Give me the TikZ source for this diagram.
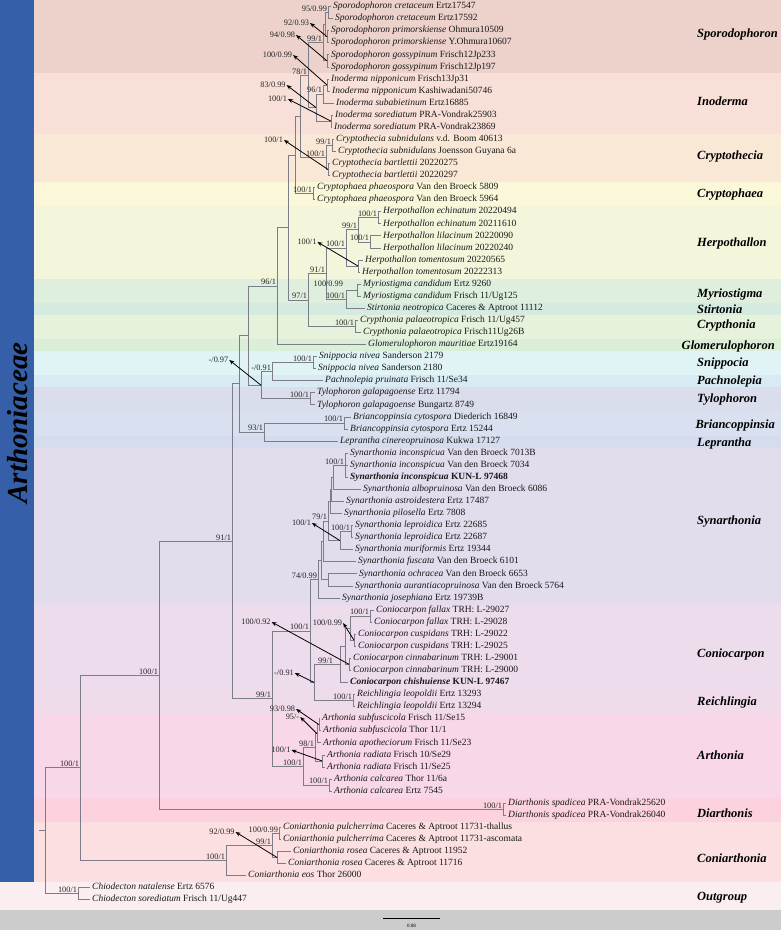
\documentclass[tikz,border=0pt]{standalone}
\usepackage{fontspec}
\setmainfont{Liberation Serif}
\usetikzlibrary{arrows.meta}
\definecolor{cSpo}{HTML}{ECD2CB}
\definecolor{cIno}{HTML}{F8DFD7}
\definecolor{cCth}{HTML}{FAE8D7}
\definecolor{cCph}{HTML}{FBF8D9}
\definecolor{cHer}{HTML}{F3F6DB}
\definecolor{cMyr}{HTML}{DEEFDE}
\definecolor{cSti}{HTML}{D6EBE0}
\definecolor{cCry}{HTML}{E6F2DB}
\definecolor{cGlo}{HTML}{DAEED8}
\definecolor{cSni}{HTML}{E0F3F5}
\definecolor{cPac}{HTML}{D8EBF4}
\definecolor{cTyl}{HTML}{DADDEC}
\definecolor{cBri}{HTML}{D9E0EF}
\definecolor{cLep}{HTML}{D5DCEE}
\definecolor{cSyn}{HTML}{E2DCEC}
\definecolor{cCon}{HTML}{ECDCEC}
\definecolor{cRei}{HTML}{EFDBEA}
\definecolor{cArt}{HTML}{F8D8E8}
\definecolor{cDia}{HTML}{FBD2DD}
\definecolor{cCoa}{HTML}{FBDFE1}
\definecolor{cOut}{HTML}{FAEEF0}
\definecolor{cGray}{HTML}{CCCCCC}
\definecolor{cBlue}{HTML}{3560A9}
\definecolor{cBranch}{HTML}{7D7D88}
\begin{document}
\begin{tikzpicture}[x=1pt,y=-1pt,
  branch/.style={draw=cBranch,line width=0.7pt},
  arr/.style={draw=black,line width=0.8pt,-{Stealth[length=5pt,width=4pt]}},
  leaf/.style={anchor=west,inner xsep=2pt,inner ysep=0pt,text height=6.5pt,text depth=2pt,font=\fontsize{9.5}{11}\selectfont,text=black!90},
  sup/.style={inner sep=0.8pt,font=\fontsize{8.3}{9}\selectfont,text=black!85},
  supn/.style={sup,anchor=south east},
  grp/.style={inner sep=0pt,font=\fontsize{12.5}{14}\selectfont\bfseries\itshape},
  fam/.style={inner sep=0pt,font=\fontsize{29}{30}\selectfont\bfseries\itshape,rotate=90}
]
\useasboundingbox (0,0) rectangle (781,930);
% background bands
\fill[cSpo] (34,0) rectangle (781,73.4);
\fill[cIno] (34,73.4) rectangle (781,133.7);
\fill[cCth] (34,133.7) rectangle (781,182.1);
\fill[cCph] (34,182.1) rectangle (781,206.2);
\fill[cHer] (34,206.2) rectangle (781,278.6);
\fill[cMyr] (34,278.6) rectangle (781,302.7);
\fill[cSti] (34,302.7) rectangle (781,314.8);
\fill[cCry] (34,314.8) rectangle (781,339);
\fill[cGlo] (34,339) rectangle (781,351);
\fill[cSni] (34,351) rectangle (781,375.1);
\fill[cPac] (34,375.1) rectangle (781,387.2);
\fill[cTyl] (34,387.2) rectangle (781,411.3);
\fill[cBri] (34,411.3) rectangle (781,435.5);
\fill[cLep] (34,435.5) rectangle (781,447.6);
\fill[cSyn] (34,447.6) rectangle (781,604.5);
\fill[cCon] (34,604.5) rectangle (781,689);
\fill[cRei] (34,689) rectangle (781,713.1);
\fill[cArt] (34,713.1) rectangle (781,797.6);
\fill[cDia] (34,797.6) rectangle (781,821.7);
\fill[cCoa] (34,821.7) rectangle (781,882.1);
\fill[cOut] (0,882.1) rectangle (781,910);
\fill[cGray] (0,910) rectangle (781,930);
\fill[cBlue] (0,0) rectangle (34,882.1);
\node[fam] (fam) at (18,423) {Arthoniaceae};

% leaves
\node[leaf] (l1) at (331,6.5) {\textit{Sporodophoron cretaceum} Ertz17547};
\node[leaf] (l2) at (333,18.57) {\textit{Sporodophoron cretaceum} Ertz17592};
\node[leaf] (l3) at (329,30.64) {\textit{Sporodophoron primorskiense} Ohmura10509};
\node[leaf] (l4) at (329,42.71) {\textit{Sporodophoron primorskiense} Y.Ohmura10607};
\node[leaf] (l5) at (329,54.78) {\textit{Sporodophoron gossypinum} Frisch12Jp233};
\node[leaf] (l6) at (329,66.85) {\textit{Sporodophoron gossypinum} Frisch12Jp197};
\node[leaf] (l7) at (329,78.92) {\textit{Inoderma nipponicum} Frisch13Jp31};
\node[leaf] (l8) at (330,90.99) {\textit{Inoderma nipponicum} Kashiwadani50746};
\node[leaf] (l9) at (334,103.06) {\textit{Inoderma subabietinum} Ertz16885};
\node[leaf] (l10) at (333,115.13) {\textit{Inoderma sorediatum} PRA-Vondrak25903};
\node[leaf] (l11) at (332,127.2) {\textit{Inoderma sorediatum} PRA-Vondrak23869};
\node[leaf] (l12) at (334,139.27) {\textit{Cryptothecia subnidulans} v.d. Boom 40613};
\node[leaf] (l13) at (336,151.34) {\textit{Cryptothecia subnidulans} Joensson Guyana 6a};
\node[leaf] (l14) at (330,163.41) {\textit{Cryptothecia bartlettii} 20220275};
\node[leaf] (l15) at (330,175.48) {\textit{Cryptothecia bartlettii} 20220297};
\node[leaf] (l16) at (315,187.55) {\textit{Cryptophaea phaeospora} Van den Broeck 5809};
\node[leaf] (l17) at (315,199.62) {\textit{Cryptophaea phaeospora} Van den Broeck 5964};
\node[leaf] (l18) at (381,211.69) {\textit{Herpothallon echinatum} 20220494};
\node[leaf] (l19) at (381,223.76) {\textit{Herpothallon echinatum} 20211610};
\node[leaf] (l20) at (381,235.83) {\textit{Herpothallon lilacinum} 20220090};
\node[leaf] (l21) at (381,247.9) {\textit{Herpothallon lilacinum} 20220240};
\node[leaf] (l22) at (363,259.97) {\textit{Herpothallon tomentosum} 20220565};
\node[leaf] (l23) at (360,272.04) {\textit{Herpothallon tomentosum} 20222313};
\node[leaf] (l24) at (361,284.11) {\textit{Myriostigma candidum} Ertz 9260};
\node[leaf] (l25) at (361,296.18) {\textit{Myriostigma candidum} Frisch 11/Ug125};
\node[leaf] (l26) at (365,308.25) {\textit{Stirtonia neotropica} Caceres \& Aptroot 11112};
\node[leaf] (l27) at (358,320.32) {\textit{Crypthonia palaeotropica} Frisch 11/Ug457};
\node[leaf] (l28) at (361,332.39) {\textit{Crypthonia palaeotropica} Frisch11Ug26B};
\node[leaf] (l29) at (366,344.46) {\textit{Glomerulophoron mauritiae} Ertz19164};
\node[leaf] (l30) at (317,356.53) {\textit{Snippocia nivea} Sanderson 2179};
\node[leaf] (l31) at (316,368.6) {\textit{Snippocia nivea} Sanderson 2180};
\node[leaf] (l32) at (323,380.67) {\textit{Pachnolepia pruinata} Frisch 11/Se34};
\node[leaf] (l33) at (315,392.74) {\textit{Tylophoron galapagoense} Ertz 11794};
\node[leaf] (l34) at (315,404.81) {\textit{Tylophoron galapagoense} Bungartz 8749};
\node[leaf] (l35) at (351,416.88) {\textit{Briancoppinsia cytospora} Diederich 16849};
\node[leaf] (l36) at (348,428.95) {\textit{Briancoppinsia cytospora} Ertz 15244};
\node[leaf] (l37) at (338,441.02) {\textit{Leprantha cinereopruinosa} Kukwa 17127};
\node[leaf] (l38) at (348,453.09) {\textit{Synarthonia inconspicua} Van den Broeck 7013B};
\node[leaf] (l39) at (348,465.16) {\textit{Synarthonia inconspicua} Van den Broeck 7034};
\node[leaf] (l40) at (348,477.23) {\textbf{\textit{Synarthonia inconspicua} KUN-L 97468}};
\node[leaf] (l41) at (361,489.3) {\textit{Synarthonia albopruinosa} Van den Broeck 6086};
\node[leaf] (l42) at (344,501.37) {\textit{Synarthonia astroidestera} Ertz 17487};
\node[leaf] (l43) at (342,513.44) {\textit{Synarthonia pilosella} Ertz 7808};
\node[leaf] (l44) at (353,525.51) {\textit{Synarthonia leproidica} Ertz 22685};
\node[leaf] (l45) at (353,537.58) {\textit{Synarthonia leproidica} Ertz 22687};
\node[leaf] (l46) at (353,549.65) {\textit{Synarthonia muriformis} Ertz 19344};
\node[leaf] (l47) at (356,561.72) {\textit{Synarthonia fuscata} Van den Broeck 6101};
\node[leaf] (l48) at (357,573.79) {\textit{Synarthonia ochracea} Van den Broeck 6653};
\node[leaf] (l49) at (353,585.86) {\textit{Synarthonia aurantiacopruinosa} Van den Broeck 5764};
\node[leaf] (l50) at (340,597.93) {\textit{Synarthonia josephiana} Ertz 19739B};
\node[leaf] (l51) at (374,610.0) {\textit{Coniocarpon fallax} TRH: L-29027};
\node[leaf] (l52) at (372,622.07) {\textit{Coniocarpon fallax} TRH: L-29028};
\node[leaf] (l53) at (356,634.14) {\textit{Coniocarpon cuspidans} TRH: L-29022};
\node[leaf] (l54) at (356,646.21) {\textit{Coniocarpon cuspidans} TRH: L-29025};
\node[leaf] (l55) at (351,658.28) {\textit{Coniocarpon cinnabarinum} TRH: L-29001};
\node[leaf] (l56) at (351,670.35) {\textit{Coniocarpon cinnabarinum} TRH: L-29000};
\node[leaf] (l57) at (348,682.42) {\textbf{\textit{Coniocarpon chishuiense} KUN-L 97467}};
\node[leaf] (l58) at (355,694.49) {\textit{Reichlingia leopoldii} Ertz 13293};
\node[leaf] (l59) at (355,706.56) {\textit{Reichlingia leopoldii} Ertz 13294};
\node[leaf] (l60) at (320,718.63) {\textit{Arthonia subfuscicola} Frisch 11/Se15};
\node[leaf] (l61) at (321,730.7) {\textit{Arthonia subfuscicola} Thor 11/1};
\node[leaf] (l62) at (321,742.77) {\textit{Arthonia apotheciorum} Frisch 11/Se23};
\node[leaf] (l63) at (325,754.84) {\textit{Arthonia radiata} Frisch 10/Se29};
\node[leaf] (l64) at (325,766.91) {\textit{Arthonia radiata} Frisch 11/Se25};
\node[leaf] (l65) at (332,778.98) {\textit{Arthonia calcarea} Thor 11/6a};
\node[leaf] (l66) at (332,791.05) {\textit{Arthonia calcarea} Ertz 7545};
\node[leaf] (l67) at (506,803.12) {\textit{Diarthonis spadicea} PRA-Vondrak25620};
\node[leaf] (l68) at (506,815.19) {\textit{Diarthonis spadicea} PRA-Vondrak26040};
\node[leaf] (l69) at (281,827.26) {\textit{Coniarthonia pulcherrima} Caceres \& Aptroot 11731-thallus};
\node[leaf] (l70) at (281,839.33) {\textit{Coniarthonia pulcherrima} Caceres \& Aptroot 11731-ascomata};
\node[leaf] (l71) at (291,851.4) {\textit{Coniarthonia rosea} Caceres \& Aptroot 11952};
\node[leaf] (l72) at (286,863.47) {\textit{Coniarthonia rosea} Caceres \& Aptroot 11716};
\node[leaf] (l73) at (246,875.54) {\textit{Coniarthonia eos} Thor 26000};
\node[leaf] (l74) at (90,887.61) {\textit{Chiodecton natalense} Ertz 6576};
\node[leaf] (l75) at (90,899.68) {\textit{Chiodecton sorediatum} Frisch 11/Ug447};

% internal nodes
\coordinate (cre) at (328,12.54);
\coordinate (pri) at (327,36.68);
\coordinate (gos) at (327,60.82);
\coordinate (SpoA) at (325,24.61);
\coordinate (SpoR) at (323,42.71);
\coordinate (nip) at (327,84.96);
\coordinate (Ino96) at (323,94.01);
\coordinate (sor) at (331,121.17);
\coordinate (InoR) at (316,107.59);
\coordinate (N308) at (308,75.15);
\coordinate (sub) at (332,145.3);
\coordinate (bar) at (328,169.45);
\coordinate (C0) at (326,157.4);
\coordinate (N300) at (300,116.28);
\coordinate (cph) at (313,193.59);
\coordinate (Q) at (295,154.93);
\coordinate (ech) at (378,217.73);
\coordinate (lil) at (370,241.87);
\coordinate (N358) at (358,229.8);
\coordinate (tom) at (358,266.0);
\coordinate (N346) at (346,247.9);
\coordinate (myr) at (357,290.15);
\coordinate (MS) at (346,299.2);
\coordinate (N326) at (326,273.55);
\coordinate (cry) at (355,326.36);
\coordinate (R) at (308,299.95);
\coordinate (P) at (288,227.44);
\coordinate (N277) at (277,285.95);
\coordinate (sni) at (313,362.57);
\coordinate (N272) at (272,371.62);
\coordinate (tyl) at (310,398.78);
\coordinate (N261) at (261,385.2);
\coordinate (N248) at (248,335.6);
\coordinate (bri) at (344,422.92);
\coordinate (N264) at (264,431.97);
\coordinate (N239) at (239,383.8);
\coordinate (ins) at (345,465.16);
\coordinate (SynH) at (333,477.23);
\coordinate (SynG) at (331,489.3);
\coordinate (SynF) at (330,501.37);
\coordinate (lep) at (351,531.55);
\coordinate (LM) at (340,540.6);
\coordinate (SynE) at (328,520.99);
\coordinate (SynD) at (323,541.36);
\coordinate (OA) at (328,579.83);
\coordinate (SynC) at (321,560.6);
\coordinate (SynR) at (318,579.27);
\coordinate (fal) at (370,616.04);
\coordinate (cus) at (354,640.18);
\coordinate (C2) at (350,628.11);
\coordinate (cin) at (349,664.32);
\coordinate (C1) at (345,646.2);
\coordinate (Cc) at (340,664.31);
\coordinate (rei) at (353,700.53);
\coordinate (Rc) at (314,682.42);
\coordinate (N310) at (310,630.85);
\coordinate (subf) at (319,724.67);
\coordinate (ArB) at (317,733.72);
\coordinate (rad) at (322,760.88);
\coordinate (ArA) at (315,747.3);
\coordinate (cal) at (329,785.02);
\coordinate (ArR) at (303,766.16);
\coordinate (N272b) at (272,698.5);
\coordinate (N232) at (232,541.15);
\coordinate (dia) at (503,809.16);
\coordinate (N159) at (159,675.15);
\coordinate (pul) at (279,833.3);
\coordinate (ros) at (277,857.44);
\coordinate (CrA) at (272,845.37);
\coordinate (Cr) at (226,860.45);
\coordinate (N80) at (80,767.8);
\coordinate (out) at (78,893.65);
\coordinate (root) at (45,830.7);
\coordinate (stub) at (39,830.7);

% branches
\foreach \p/\c in {cre/l1.west,cre/l2.west,pri/l3.west,pri/l4.west,gos/l5.west,gos/l6.west,
  SpoA/cre,SpoA/pri,SpoR/SpoA,SpoR/gos,
  nip/l7.west,nip/l8.west,Ino96/nip,Ino96/l9.west,sor/l10.west,sor/l11.west,InoR/Ino96,InoR/sor,
  N308/SpoR,N308/InoR,
  sub/l12.west,sub/l13.west,bar/l14.west,bar/l15.west,C0/sub,C0/bar,N300/N308,N300/C0,
  cph/l16.west,cph/l17.west,Q/N300,Q/cph,
  ech/l18.west,ech/l19.west,lil/l20.west,lil/l21.west,N358/ech,N358/lil,tom/l22.west,tom/l23.west,
  N346/N358,N346/tom,myr/l24.west,myr/l25.west,MS/myr,MS/l26.west,N326/N346,N326/MS,
  cry/l27.west,cry/l28.west,R/N326,R/cry,P/Q,P/R,N277/P,N277/l29.west,
  sni/l30.west,sni/l31.west,N272/sni,N272/l32.west,tyl/l33.west,tyl/l34.west,N261/N272,N261/tyl,
  N248/N277,N248/N261,bri/l35.west,bri/l36.west,N264/bri,N264/l37.west,N239/N248,N239/N264,
  ins/l38.west,ins/l39.west,ins/l40.west,SynH/ins,SynH/l41.west,SynG/SynH,SynG/l42.west,
  SynF/SynG,SynF/l43.west,lep/l44.west,lep/l45.west,LM/lep,LM/l46.west,SynE/SynF,SynE/LM,
  SynD/SynE,SynD/l47.west,OA/l48.west,OA/l49.west,SynC/SynD,SynC/OA,SynR/SynC,SynR/l50.west,
  fal/l51.west,fal/l52.west,cus/l53.west,cus/l54.west,C2/fal,C2/cus,cin/l55.west,cin/l56.west,
  C1/C2,C1/cin,Cc/C1,Cc/l57.west,rei/l58.west,rei/l59.west,Rc/Cc,Rc/rei,N310/SynR,N310/Rc,
  subf/l60.west,subf/l61.west,ArB/subf,ArB/l62.west,rad/l63.west,rad/l64.west,ArA/ArB,ArA/rad,
  cal/l65.west,cal/l66.west,ArR/ArA,ArR/cal,N272b/N310,N272b/ArR,N232/N239,N232/N272b,
  dia/l67.west,dia/l68.west,N159/N232,N159/dia,
  pul/l69.west,pul/l70.west,ros/l71.west,ros/l72.west,CrA/pul,CrA/ros,Cr/CrA,Cr/l73.west,
  N80/N159,N80/Cr,out/l74.west,out/l75.west,root/N80,root/out}
  {\draw[branch] (\p) |- (\c);}
\draw[branch] (stub) -- (root);

% support values next to nodes
\node[supn] (s1) at (cre) {95/0.99};
\node[supn] (s2) at (SpoR) {99/1};
\node[supn] (s3) at (N308) {78/1};
\node[supn] (s4) at (Ino96) {96/1};
\node[supn] (s5) at (sub) {99/1};
\node[supn] (s6) at (C0) {100/1};
\node[supn] (s7) at (cph) {100/1};
\node[supn] (s8) at (ech) {100/1};
\node[supn] (s9) at (N358) {99/1};
\node[supn] (s10) at (lil) {100/1};
\node[supn] (s11) at (N346) {100/1};
\node[supn] (s12) at (N326) {91/1};
\node[supn] (s13) at (N277) {96/1};
\node[supn] (s14) at (R) {97/1};
\node[supn] (s15) at (344,288) {100/0.99};
\node[supn] (s16) at (MS) {100/1};
\node[supn] (s17) at (cry) {100/1};
\node[supn] (s18) at (sni) {100/1};
\node[supn] (s19) at (N272) {-/0.91};
\node[supn] (s20) at (tyl) {100/1};
\node[supn] (s21) at (bri) {100/1};
\node[supn] (s22) at (N264) {93/1};
\node[supn] (s23) at (ins) {100/1};
\node[supn] (s24) at (SynE) {79/1};
\node[supn] (s25) at (lep) {100/1};
\node[supn] (s26) at (SynR) {74/0.99};
\node[supn] (s27) at (N232) {91/1};
\node[supn] (s28) at (fal) {100/1};
\node[supn] (s29) at (N310) {100/1};
\node[supn] (s30) at (334,664.3) {99/1};
\node[supn] (s31) at (rei) {100/1};
\node[supn] (s32) at (N272b) {99/1};
\node[supn] (s33) at (ArA) {98/1};
\node[supn] (s34) at (ArR) {100/1};
\node[supn] (s35) at (cal) {100/1};
\node[supn] (s36) at (dia) {100/1};
\node[supn] (s37) at (N159) {100/1};
\node[supn] (s38) at (N80) {100/1};
\node[supn] (s39) at (Cr) {100/1};
\node[supn] (s40) at (CrA) {99/1};
\node[supn] (s41) at (pul) {100/0.99};
\node[supn] (s42) at (out) {100/1};

% support values with arrows
\node[sup] (a1) at (296.5,23) {92/0.93};
\node[sup] (a2) at (282.5,35) {94/0.98};
\node[sup] (a3) at (277.5,55) {100/0.99};
\node[sup] (a4) at (273,85) {83/0.99};
\node[sup] (a5) at (277.5,99) {100/1};
\node[sup] (a6) at (273.5,140) {100/1};
\node[sup] (a7) at (307,242) {100/1};
\node[sup] (a8) at (218.5,360) {-/0.97};
\node[sup] (a9) at (301.5,523) {100/1};
\node[sup] (a10) at (256,622) {100/0.92};
\node[sup] (a11) at (327.5,623) {100/0.99};
\node[sup] (a12) at (284,673) {-/0.91};
\node[sup] (a13) at (282.5,709) {93/0.98};
\node[sup] (a14) at (292.5,717) {95/-};
\node[sup] (a15) at (281,750) {100/1};
\node[sup] (a16) at (222,832) {92/0.99};
\foreach \n/\a in {pri/a1,gos/a2,nip/a3,InoR/a4,sor/a5,bar/a6,tom/a7,N261/a8,LM/a9,
  cin/a10,cus/a11,Rc/a12,subf/a13,ArB/a14,rad/a15,ros/a16}
  {\draw[arr] (\n) -- (\a.east);}

% group labels
\node[grp,anchor=west] (g1) at (697,34) {Sporodophoron};
\node[grp,anchor=west] (g2) at (697,101) {Inoderma};
\node[grp,anchor=west] (g3) at (697,157) {Cryptothecia};
\node[grp,anchor=west] (g4) at (697,195) {Cryptophaea};
\node[grp,anchor=west] (g5) at (697,243) {Herpothallon};
\node[grp,anchor=west] (g6) at (697,295) {Myriostigma};
\node[grp,anchor=west] (g7) at (697,309) {Stirtonia};
\node[grp,anchor=west] (g8) at (697,326) {Crypthonia};
\node[grp,anchor=east] (g9) at (775,346) {Glomerulophoron};
\node[grp,anchor=west] (g10) at (697,363) {Snippocia};
\node[grp,anchor=west] (g11) at (697,381) {Pachnolepia};
\node[grp,anchor=west] (g12) at (697,400) {Tylophoron};
\node[grp,anchor=east] (g13) at (775,425) {Briancoppinsia};
\node[grp,anchor=west] (g14) at (697,443) {Leprantha};
\node[grp,anchor=west] (g15) at (697,522) {Synarthonia};
\node[grp,anchor=west] (g16) at (697,654) {Coniocarpon};
\node[grp,anchor=west] (g17) at (697,702) {Reichlingia};
\node[grp,anchor=west] (g18) at (697,755) {Arthonia};
\node[grp,anchor=west] (g19) at (697,813) {Diarthonis};
\node[grp,anchor=west] (g20) at (697,858) {Coniarthonia};
\node[grp,anchor=west] (g21) at (697,898) {Outgroup};

% scale bar
\coordinate (sb1) at (383,918);
\coordinate (sb2) at (440,918);
\draw[black,line width=0.7pt] (sb1) -- (sb2);
\node[inner sep=0pt,font=\fontsize{5}{6}\selectfont] (sbl) at (411.5,925.5) {0.08};
\end{tikzpicture}
\end{document}
